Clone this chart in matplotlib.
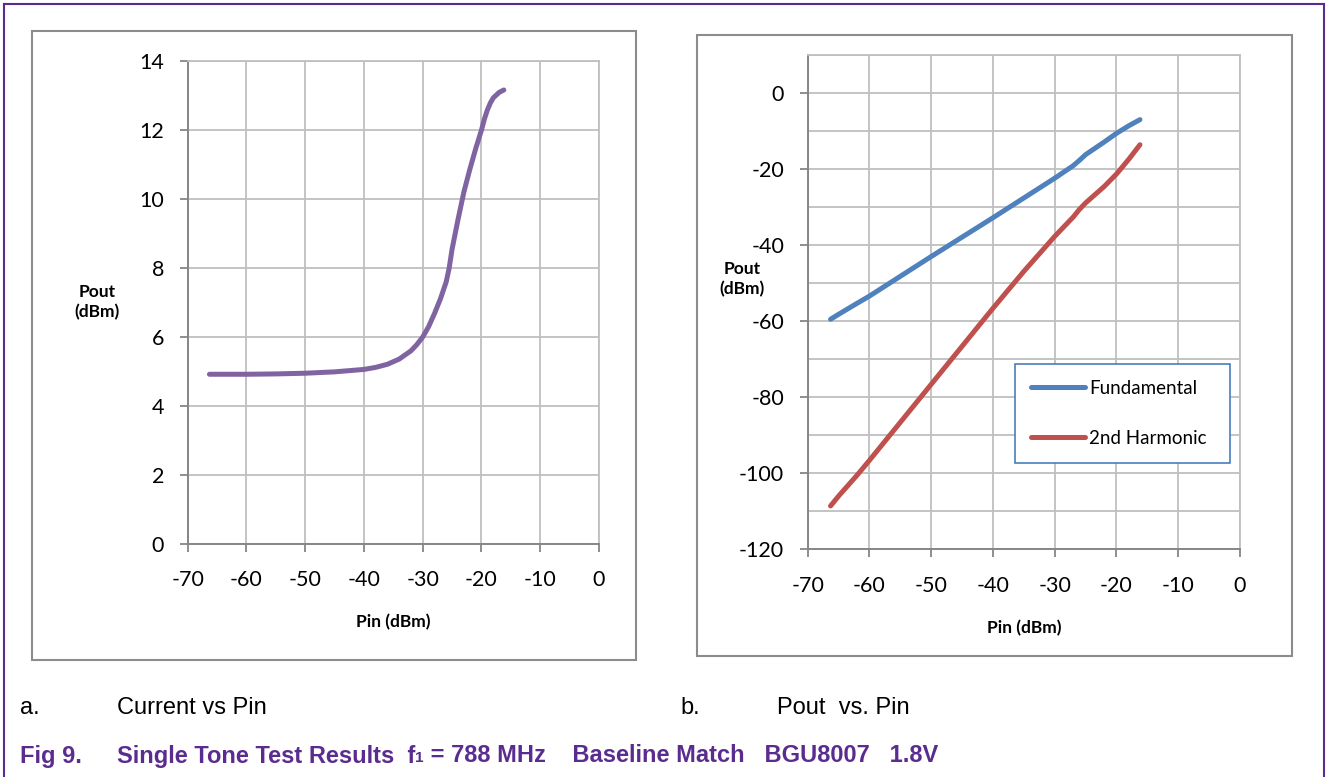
import matplotlib
matplotlib.use("Agg")
import matplotlib.pyplot as plt
from matplotlib.patches import Rectangle
from matplotlib.lines import Line2D

# Pin sweep (dBm) and measured output
pin_a = [-66.3, -60, -55, -50, -45, -40, -38, -36, -34, -32, -31, -30, -29, -28,
         -27, -26, -25.5, -25, -24, -23, -22, -21, -20, -19.5, -19, -18.5, -18,
         -17, -16.2]
pout_a = [4.92, 4.92, 4.93, 4.95, 4.99, 5.06, 5.12, 5.21, 5.36, 5.6, 5.78, 6.0,
          6.3, 6.68, 7.1, 7.6, 8.0, 8.55, 9.4, 10.2, 10.85, 11.45, 12.0, 12.32,
          12.58, 12.78, 12.93, 13.09, 13.16]

pin_b = [-66.3, -65, -62, -60, -55, -50, -45, -40, -35, -30, -27, -26, -25,
         -22, -20, -18, -16.2]
fundamental = [-59.5, -58.2, -55.3, -53.4, -48.2, -43.0, -37.9, -32.8, -27.6,
               -22.4, -19.1, -17.7, -16.2, -12.9, -10.6, -8.6, -7.0]
harmonic2 = [-108.6, -106.0, -100.5, -96.6, -86.6, -76.6, -66.6, -56.6, -46.9,
             -37.7, -32.6, -30.6, -28.9, -24.6, -21.3, -17.4, -13.6]

W, H = 1326, 777
PURPLE = "#5B2C8F"
GRID = "#BFBFBF"
AXC = "#868686"

plt.rcParams["font.family"] = ["Lato", "DejaVu Sans"]
plt.rcParams["axes.unicode_minus"] = False

fig = plt.figure(figsize=(W / 100, H / 100), dpi=100)


def box(x0, y0, x1, y1, color, lw):
    fig.add_artist(Rectangle((x0 / W, 1 - y1 / H), (x1 - x0) / W, (y1 - y0) / H,
                             transform=fig.transFigure, fill=False,
                             edgecolor=color, linewidth=lw))


# outer frame (open at the bottom)
for xs, ys in [([4, 4], [777, 4]), ([4, 1324], [4, 4]), ([1324, 1324], [4, 777])]:
    fig.add_artist(Line2D([x / W for x in xs], [1 - y / H for y in ys],
                          transform=fig.transFigure, color=PURPLE, lw=1.5))

# chart boxes
box(32, 31, 636, 660, "#8C8C8C", 1.5)
box(697, 35, 1292, 656, "#8C8C8C", 1.5)


def style(ax):
    ax.grid(True, which="both", color=GRID, lw=1.3)
    ax.set_axisbelow(True)
    for s in ["top", "right"]:
        ax.spines[s].set_color(GRID)
        ax.spines[s].set_linewidth(1.3)
    for s in ["left", "bottom"]:
        ax.spines[s].set_color(AXC)
        ax.spines[s].set_linewidth(1.4)
    ax.tick_params(which="major", direction="out", length=6, width=1.3, color=AXC,
                   labelsize=15.5, pad=11)
    ax.tick_params(axis="x", pad=13)
    ax.tick_params(which="minor", length=0)


# a. output power vs input power
ax1 = fig.add_axes([187.7 / W, 1 - 544 / H, 411.3 / W, 483 / H])
ax1.plot(pin_a, pout_a, color="#8064A2", lw=3.6, solid_capstyle="round",
         solid_joinstyle="round")
ax1.set_xlim(-70, 0)
ax1.set_ylim(0, 14)
ax1.set_xticks(range(-70, 1, 10))
ax1.set_yticks(range(0, 15, 2))
style(ax1)
ax1.set_xlabel("Pin (dBm)", fontsize=12.5, fontweight="bold")
ax1.xaxis.set_label_coords(0.499, -0.145)
ax1.set_ylabel("Pout\n(dBm)", fontsize=12.5, fontweight="bold", rotation=0,
               ha="center", va="center", linespacing=1.3)
ax1.yaxis.set_label_coords(-0.2205, 0.501)

# b. fundamental and 2nd harmonic
ax2 = fig.add_axes([807.7 / W, 1 - 549.3 / H, 432.3 / W, 494.3 / H])
ax2.plot(pin_b, fundamental, color="#4F81BD", lw=3.6, solid_capstyle="round",
         solid_joinstyle="round", label="Fundamental")
ax2.plot(pin_b, harmonic2, color="#C0504D", lw=3.6, solid_capstyle="round",
         solid_joinstyle="round", label="2nd Harmonic")
ax2.set_xlim(-70, 0)
ax2.set_ylim(-120, 10)
ax2.set_xticks(range(-70, 1, 10))
ax2.set_yticks(range(-120, 1, 20))
ax2.set_yticks(range(-110, 11, 10), minor=True)
style(ax2)
ax2.set_xlabel("Pin (dBm)", fontsize=12.5, fontweight="bold")
ax2.xaxis.set_label_coords(0.5, -0.143)
ax2.set_ylabel("Pout\n(dBm)", fontsize=12.5, fontweight="bold", rotation=0,
               ha="center", va="center", linespacing=1.3)
ax2.yaxis.set_label_coords(-0.152, 0.547)

leg = ax2.legend(loc="upper left", bbox_to_anchor=(0.4795, 0.375, 0.4975, 0.0),
                 mode="expand", fontsize=13.5, frameon=True, fancybox=False,
                 borderpad=0.85, labelspacing=1.75, handlelength=2.9,
                 handletextpad=0.2, borderaxespad=0)
leg.get_frame().set_edgecolor("#4A7EBB")
leg.get_frame().set_linewidth(1.2)
leg.get_frame().set_alpha(1)

# captions
cap = ["Liberation Sans", "DejaVu Sans"]
fig.text(20 / W, 1 - 708 / H, "a.", fontsize=17, family=cap, va="center")
fig.text(117 / W, 1 - 708 / H, "Current vs Pin", fontsize=17, family=cap, va="center")
fig.text(680 / W, 1 - 708 / H, "b.", fontsize=17, family=cap, va="center")
fig.text(777 / W, 1 - 708 / H, "Pout  vs. Pin", fontsize=17, family=cap, va="center")

fig.text(20 / W, 1 - 756 / H, "Fig 9.", fontsize=17, family=cap, fontweight="bold",
         color=PURPLE, va="center")
renderer = fig.canvas.get_renderer()
t1 = fig.text(117 / W, 1 - 756 / H, "Single Tone Test Results  f", fontsize=17,
              family=cap, fontweight="bold", color=PURPLE, va="center")
x_end = t1.get_window_extent(renderer).x1
t2 = fig.text(x_end / W, 1 - 758 / H, "1", fontsize=11, family=cap,
              fontweight="bold", color=PURPLE, va="center")
x_end = t2.get_window_extent(renderer).x1
fig.text(x_end / W, 1 - 756 / H, " = 788 MHz    Baseline Match   BGU8007   1.8V",
         fontsize=17, family=cap, fontweight="bold", color=PURPLE, va="center")

fig.savefig("out.png", dpi=100)
